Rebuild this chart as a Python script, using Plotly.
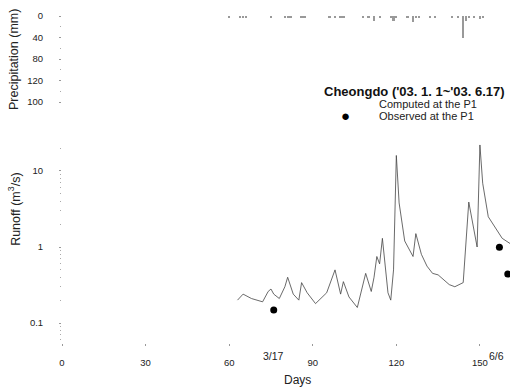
import plotly.graph_objects as go

# ---- data ----
runoff_days = [63, 65, 68, 72, 74, 75, 76, 78, 80, 81, 83, 85, 86, 88, 91, 95, 98, 100, 101, 103,
               106, 109, 111, 112, 113, 114, 115, 117, 118, 119, 120, 121, 123, 126, 127, 129, 131,
               133, 135, 137, 139, 141, 144, 146, 148, 149, 150, 151, 153, 156, 158, 161]
runoff_computed = [0.20, 0.24, 0.21, 0.19, 0.26, 0.28, 0.24, 0.21, 0.30, 0.40, 0.24, 0.20, 0.34, 0.25,
                   0.18, 0.25, 0.50, 0.24, 0.35, 0.22, 0.16, 0.45, 0.26, 0.40, 0.75, 0.60, 1.3, 0.25,
                   0.20, 0.50, 16.0, 3.8, 1.2, 0.75, 1.5, 0.80, 0.56, 0.45, 0.43, 0.37, 0.32, 0.30,
                   0.34, 3.9, 1.5, 1.0, 22.0, 6.9, 2.5, 1.7, 1.3, 1.1]

obs_days = [76, 157, 160]
obs_runoff = [0.148, 0.99, 0.44]

rain_days = [60, 64, 65, 66, 75, 80, 81, 82, 86, 87, 96, 98, 100, 101, 108, 110, 112, 114,
             118, 119, 120, 124, 126, 127, 128, 132, 134, 140, 142, 144, 145, 146, 148, 150, 151]
rain_mm = [2, 3, 3, 2, 2, 2, 2, 2, 2, 2, 3, 4, 4, 3, 3, 3, 9, 3,
           3, 10, 3, 3, 12, 3, 2, 2, 2, 3, 3, 40, 10, 3, 4, 5, 3]

x_ticks = [0, 30, 60, 90, 120, 150]
rain_ticks = [0, 40, 80, 120, 160]
rain_ticktext = ["0", "40", "80", "120", "100"]
runoff_ticks = [0.1, 1, 10]
runoff_ticktext = ["0.1", "1", "10"]
runoff_minor = [0.06, 0.07, 0.08, 0.09, 0.2, 0.3, 0.4, 0.5, 0.6, 0.7, 0.8, 0.9,
                2, 3, 4, 5, 6, 7, 8, 9, 20]
date_labels = [("3/17", 76), ("6/6", 156)]

legend_title = "Cheongdo ('03. 1. 1~'03. 6.17)"
legend_computed = "Computed at the P1"
legend_observed = "Observed at the P1"

FONT = "Liberation Sans, Arial, sans-serif"

fig = go.Figure()

fig.add_trace(go.Bar(
    x=rain_days, y=rain_mm, yaxis="y2", marker=dict(color="#999", line=dict(width=0)),
    width=0.8, showlegend=False, hoverinfo="skip"))

fig.add_trace(go.Scatter(
    x=runoff_days, y=runoff_computed, mode="lines", name=legend_computed,
    line=dict(color="#444", width=0.8), showlegend=False))

fig.add_trace(go.Scatter(
    x=obs_days, y=obs_runoff, mode="markers", name=legend_observed,
    marker=dict(color="black", size=7), cliponaxis=False, showlegend=False))

fig.update_layout(
    width=510, height=388,
    margin=dict(l=62, r=0, t=10, b=45, autoexpand=False),
    paper_bgcolor="white", plot_bgcolor="white",
    font=dict(family=FONT, color="#222", size=10),
    bargap=0,
    xaxis=dict(range=[0, 160.8], tickvals=x_ticks, showline=False, showgrid=False, zeroline=False,
               ticks="outside", ticklen=2, tickcolor="#999", ticklabelstandoff=9,
               tickfont=dict(size=9.5)),
    yaxis=dict(type="log", range=[-1.263, 3.118], tickvals=runoff_ticks, ticktext=runoff_ticktext,
               showline=False, showgrid=False, zeroline=False, ticks="outside", ticklen=2,
               tickcolor="#999", ticklabelstandoff=14, tickfont=dict(size=9.5),
               minor=dict(tickvals=runoff_minor, ticks="outside", ticklen=1.5, tickcolor="#aaa",
                          showgrid=False)),
    yaxis2=dict(overlaying="y", side="left", range=[608, -11.2], tickvals=rain_ticks,
                ticktext=rain_ticktext, showline=False, showgrid=False, zeroline=False,
                ticks="outside", ticklen=2, tickcolor="#999", ticklabelstandoff=14,
                tickfont=dict(size=9.5),
                minor=dict(tickvals=[20, 60, 100, 140], ticks="outside", ticklen=1.5,
                           tickcolor="#aaa", showgrid=False)),
)

def pa(text, x, y, size, **kw):
    d = dict(text=text, x=x, y=y, xref="paper", yref="paper", showarrow=False,
             xanchor="center", yanchor="middle", font=dict(size=size))
    d.update(kw)
    return d

annotations = [
    pa("Precipitation (mm)", -0.107, 0.85, 12.5, textangle=-90),
    pa("Runoff (m<sup>3</sup>/s)", -0.107, 0.40, 12.5, textangle=-90),
    pa("Days", 0.525, -0.111, 12),
    pa("<b>" + legend_title + "</b>", 0.786, 0.754, 13, font=dict(size=13, color="#111")),
    pa(legend_computed, 0.703, 0.718, 11, xanchor="left"),
    pa(legend_observed, 0.703, 0.682, 11, xanchor="left"),
    pa("●", 0.632, 0.682, 15, font=dict(size=15, color="black")),
]
for txt, d in date_labels:
    annotations.append(dict(text=txt, x=d, y=-0.04, xref="x", yref="paper", showarrow=False,
                            xanchor="center", yanchor="middle", font=dict(size=10.5)))
fig.update_layout(annotations=annotations)

fig.write_html("out.html", config={"displayModeBar": False},
               post_script="document.body.style.margin='0';")
